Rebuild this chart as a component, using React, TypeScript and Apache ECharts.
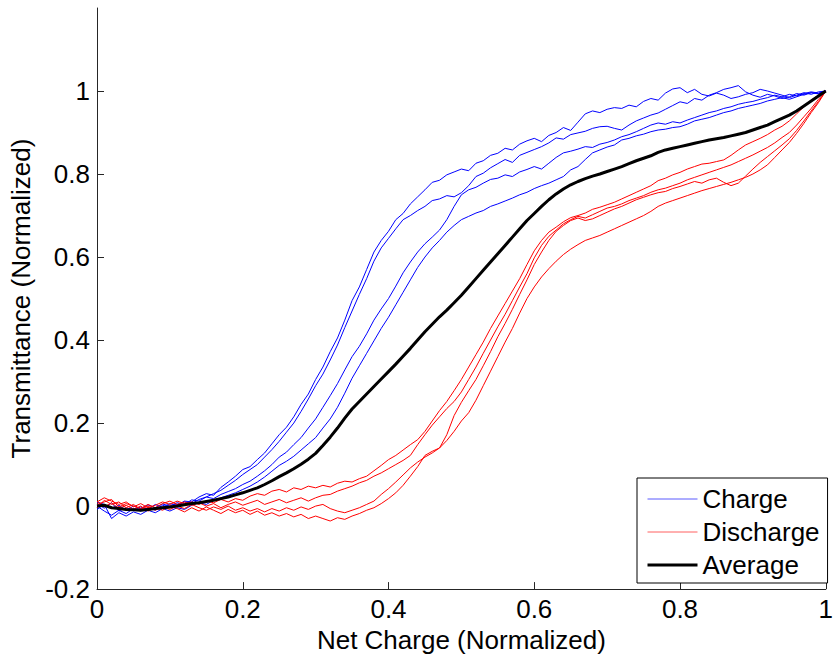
import React, { useEffect, useRef } from "react";
import * as echarts from "echarts";

// x grid (normalized net charge), step 0.01
const X: number[] = Array.from({ length: 101 }, (_, i) => +(i / 100).toFixed(2));

const charge1 = [
  0.005, -0.005, 0.008, -0.012, -0.004, -0.010, -0.002, -0.008, 0.004, -0.003,
  0.006, 0.002, 0.012, 0.010, 0.022, 0.030, 0.026, 0.045, 0.058, 0.072,
  0.088, 0.095, 0.112, 0.128, 0.150, 0.172, 0.190, 0.215, 0.245, 0.270,
  0.305, 0.335, 0.372, 0.405, 0.448, 0.495, 0.528, 0.570, 0.612, 0.640,
  0.662, 0.690, 0.705, 0.728, 0.745, 0.762, 0.780, 0.785, 0.798, 0.805,
  0.812, 0.808, 0.826, 0.832, 0.845, 0.850, 0.862, 0.858, 0.872, 0.880,
  0.886, 0.878, 0.893, 0.900, 0.912, 0.905, 0.925, 0.945, 0.952, 0.948,
  0.956, 0.960, 0.958, 0.966, 0.962, 0.975, 0.982, 0.978, 0.995, 1.005,
  1.008, 0.996, 1.004, 0.992, 0.988, 0.995, 0.990, 0.982, 0.986, 0.992,
  0.996, 1.004, 1.000, 0.995, 0.990, 0.984, 0.990, 0.996, 0.992, 0.998,
  1.000,
];

const charge2 = [
  0.010, 0.004, -0.006, 0.002, -0.010, 0.000, -0.006, 0.003, -0.004, 0.005,
  0.000, 0.008, 0.004, 0.015, 0.012, 0.022, 0.030, 0.038, 0.050, 0.062,
  0.076, 0.088, 0.100, 0.118, 0.136, 0.156, 0.178, 0.200, 0.228, 0.258,
  0.290, 0.318, 0.352, 0.388, 0.430, 0.470, 0.510, 0.548, 0.590, 0.622,
  0.645, 0.668, 0.690, 0.700, 0.712, 0.722, 0.736, 0.740, 0.748, 0.745,
  0.755, 0.772, 0.794, 0.802, 0.815, 0.825, 0.835, 0.828, 0.845, 0.852,
  0.859, 0.866, 0.875, 0.887, 0.884, 0.895, 0.899, 0.903, 0.910, 0.914,
  0.915, 0.910, 0.906, 0.918, 0.928, 0.935, 0.942, 0.947, 0.956, 0.965,
  0.974, 0.970, 0.982, 0.978, 0.990, 0.996, 1.004, 1.008, 1.013, 0.998,
  0.990, 0.985, 0.992, 0.988, 0.982, 0.986, 0.994, 0.990, 0.996, 0.994,
  1.000,
];

const charge3 = [
  0.000, -0.012, -0.022, -0.010, -0.018, -0.006, -0.012, -0.004, -0.010, 0.002,
  -0.004, 0.004, 0.010, 0.006, 0.016, 0.022, 0.018, 0.028, 0.035, 0.042,
  0.052, 0.060, 0.072, 0.085, 0.100, 0.118, 0.130, 0.148, 0.165, 0.188,
  0.210, 0.238, 0.266, 0.295, 0.328, 0.360, 0.385, 0.415, 0.448, 0.475,
  0.500, 0.530, 0.562, 0.588, 0.612, 0.632, 0.648, 0.665, 0.690, 0.722,
  0.750, 0.762, 0.768, 0.778, 0.787, 0.790, 0.798, 0.794, 0.805, 0.811,
  0.818, 0.812, 0.826, 0.840, 0.851, 0.855, 0.860, 0.866, 0.864, 0.872,
  0.876, 0.882, 0.890, 0.895, 0.902, 0.910, 0.918, 0.923, 0.920, 0.926,
  0.923, 0.930, 0.936, 0.942, 0.948, 0.952, 0.958, 0.962, 0.968, 0.972,
  0.975, 0.980, 0.984, 0.990, 0.986, 0.992, 0.988, 0.994, 0.998, 0.995,
  1.000,
];

const charge4 = [
  -0.008, 0.004, -0.030, -0.016, -0.024, -0.014, -0.020, -0.010, -0.016, -0.006,
  -0.012, -0.004, -0.008, 0.002, 0.008, 0.004, 0.014, 0.020, 0.026, 0.032,
  0.040, 0.048, 0.058, 0.070, 0.084, 0.098, 0.108, 0.120, 0.135, 0.150,
  0.165, 0.188, 0.210, 0.238, 0.272, 0.308, 0.338, 0.368, 0.398, 0.428,
  0.455, 0.485, 0.515, 0.545, 0.575, 0.600, 0.622, 0.640, 0.660, 0.676,
  0.690, 0.698, 0.706, 0.712, 0.722, 0.728, 0.735, 0.742, 0.750, 0.756,
  0.765, 0.772, 0.778, 0.786, 0.794, 0.810, 0.818, 0.835, 0.851, 0.858,
  0.865, 0.870, 0.882, 0.886, 0.892, 0.896, 0.902, 0.906, 0.908, 0.912,
  0.914, 0.920, 0.928, 0.932, 0.936, 0.942, 0.948, 0.952, 0.958, 0.962,
  0.966, 0.970, 0.976, 0.980, 0.984, 0.980, 0.986, 0.992, 0.996, 0.993,
  1.000,
];

const discharge1 = [
  0.010, 0.020, 0.012, 0.004, 0.010, -0.002, 0.006, -0.004, 0.002, 0.010,
  0.004, 0.012, 0.006, 0.010, 0.004, 0.012, 0.008, 0.016, 0.010, 0.018,
  0.014, 0.024, 0.030, 0.026, 0.036, 0.040, 0.034, 0.044, 0.040, 0.048,
  0.044, 0.050, 0.046, 0.055, 0.060, 0.058, 0.066, 0.072, 0.085, 0.098,
  0.112, 0.122, 0.135, 0.148, 0.160, 0.180, 0.205, 0.230, 0.252, 0.278,
  0.305, 0.335, 0.365, 0.395, 0.428, 0.458, 0.488, 0.518, 0.548, 0.582,
  0.615, 0.640, 0.660, 0.672, 0.685, 0.695, 0.700, 0.706, 0.715, 0.720,
  0.726, 0.732, 0.740, 0.748, 0.756, 0.764, 0.772, 0.784, 0.790, 0.798,
  0.804, 0.812, 0.818, 0.824, 0.826, 0.830, 0.834, 0.845, 0.858, 0.870,
  0.878, 0.886, 0.895, 0.906, 0.915, 0.928, 0.945, 0.962, 0.978, 0.990,
  1.000,
];

const discharge2 = [
  0.004, 0.010, 0.016, -0.002, 0.006, 0.000, -0.006, 0.004, -0.004, 0.006,
  0.012, 0.004, 0.010, 0.002, 0.008, 0.000, 0.006, -0.004, 0.004, 0.010,
  0.002, 0.008, 0.014, 0.004, 0.010, 0.016, 0.008, 0.014, 0.020, 0.012,
  0.020, 0.026, 0.028, 0.036, 0.042, 0.048, 0.056, 0.062, 0.072, 0.080,
  0.090, 0.100, 0.110, 0.122, 0.148, 0.172, 0.195, 0.215, 0.235, 0.252,
  0.275, 0.305, 0.335, 0.368, 0.400, 0.432, 0.462, 0.495, 0.528, 0.560,
  0.598, 0.628, 0.650, 0.665, 0.680, 0.690, 0.698, 0.694, 0.702, 0.710,
  0.718, 0.722, 0.728, 0.736, 0.742, 0.748, 0.756, 0.762, 0.766, 0.772,
  0.778, 0.786, 0.792, 0.798, 0.804, 0.810, 0.816, 0.822, 0.830, 0.838,
  0.846, 0.855, 0.864, 0.875, 0.888, 0.900, 0.918, 0.938, 0.958, 0.980,
  1.000,
];

const discharge3 = [
  -0.004, 0.014, 0.004, 0.010, -0.004, 0.004, -0.008, 0.000, -0.010, -0.002,
  -0.008, 0.000, -0.006, 0.004, -0.004, -0.010, -0.002, -0.008, 0.000, -0.010,
  -0.004, -0.012, -0.006, -0.014, -0.006, -0.012, -0.004, -0.010, -0.002, -0.008,
  0.000, 0.004, -0.006, -0.012, -0.016, -0.010, -0.004, 0.004, 0.012, 0.028,
  0.042, 0.058, 0.075, 0.092, 0.106, 0.118, 0.128, 0.140, 0.172, 0.218,
  0.250, 0.278, 0.305, 0.338, 0.372, 0.408, 0.440, 0.474, 0.510, 0.545,
  0.582, 0.612, 0.640, 0.662, 0.676, 0.688, 0.694, 0.688, 0.692, 0.700,
  0.708, 0.716, 0.722, 0.730, 0.738, 0.744, 0.750, 0.755, 0.758, 0.765,
  0.770, 0.776, 0.782, 0.778, 0.786, 0.790, 0.780, 0.772, 0.778, 0.795,
  0.812, 0.828, 0.842, 0.856, 0.870, 0.885, 0.905, 0.928, 0.952, 0.975,
  1.000,
];

const discharge4 = [
  0.012, -0.002, 0.008, -0.006, 0.002, -0.008, 0.000, -0.012, -0.004, -0.010,
  0.000, -0.006, -0.014, -0.004, -0.012, -0.002, -0.010, -0.018, -0.008, -0.016,
  -0.010, -0.020, -0.012, -0.022, -0.016, -0.024, -0.018, -0.026, -0.020, -0.030,
  -0.024, -0.030, -0.036, -0.028, -0.032, -0.024, -0.018, -0.010, -0.004, 0.006,
  0.018, 0.032, 0.050, 0.072, 0.095, 0.122, 0.132, 0.140, 0.158, 0.180,
  0.205, 0.225, 0.255, 0.290, 0.325, 0.360, 0.395, 0.428, 0.465, 0.500,
  0.528, 0.552, 0.572, 0.590, 0.606, 0.619, 0.630, 0.640, 0.646, 0.652,
  0.660, 0.668, 0.676, 0.684, 0.692, 0.700, 0.710, 0.722, 0.730, 0.736,
  0.742, 0.748, 0.754, 0.760, 0.765, 0.770, 0.775, 0.780, 0.786, 0.792,
  0.800, 0.810, 0.822, 0.840, 0.858, 0.876, 0.898, 0.922, 0.948, 0.972,
  1.000,
];

const average = [
  0.000, 0.002, -0.004, -0.006, -0.008, -0.009, -0.010, -0.008, -0.006, -0.004,
  -0.002, 0.000, 0.003, 0.006, 0.008, 0.011, 0.014, 0.018, 0.022, 0.027,
  0.032, 0.038, 0.044, 0.052, 0.061, 0.071, 0.080, 0.090, 0.101, 0.113,
  0.127, 0.146, 0.166, 0.188, 0.212, 0.234, 0.252, 0.270, 0.288, 0.306,
  0.324, 0.342, 0.361, 0.380, 0.400, 0.420, 0.438, 0.456, 0.472, 0.490,
  0.508, 0.528, 0.548, 0.568, 0.588, 0.608, 0.628, 0.648, 0.668, 0.688,
  0.705, 0.722, 0.738, 0.752, 0.764, 0.774, 0.782, 0.789, 0.795, 0.800,
  0.806, 0.812, 0.818, 0.825, 0.832, 0.838, 0.844, 0.852, 0.858, 0.862,
  0.866, 0.870, 0.874, 0.878, 0.882, 0.885, 0.888, 0.892, 0.896, 0.900,
  0.906, 0.912, 0.918, 0.926, 0.934, 0.942, 0.952, 0.964, 0.976, 0.988,
  1.000,
];

const chargeSeries = [charge1, charge2, charge3, charge4];
const dischargeSeries = [discharge1, discharge2, discharge3, discharge4];
const legendNames = ["Charge", "Discharge", "Average"];
const xTitle = "Net Charge (Normalized)";
const yTitle = "Transmittance (Normalized)";

const FONT = "'Liberation Sans', Arial, Helvetica, sans-serif";
const AXIS_COLOR = "#262626";

export default function App() {
  const ref = useRef<HTMLDivElement>(null);

  useEffect(() => {
    if (!ref.current) return;
    const chart = echarts.init(ref.current, null, { renderer: "svg" });

    const mk = (name: string, ys: number[], color: string, width: number, z: number) => ({
      type: "line",
      name,
      data: X.map((x, i) => [x, ys[i]]),
      symbol: "none",
      showSymbol: false,
      silent: true,
      z,
      lineStyle: { color, width },
      itemStyle: { color },
    });

    const series = [
      ...chargeSeries.map((s) => mk(legendNames[0], s, "#0000ff", 1, 2)),
      ...dischargeSeries.map((s) => mk(legendNames[1], s, "#ff0000", 1, 2)),
      mk(legendNames[2], average, "#000000", 3, 3),
    ];

    chart.setOption({
      animation: false,
      backgroundColor: "#ffffff",
      textStyle: { fontFamily: FONT },
      grid: { left: 97, top: 8, width: 738, height: 583.5, containLabel: false },
      legend: {
        data: [
          { name: legendNames[0], lineStyle: { width: 1, color: "#5a5aff" } },
          { name: legendNames[1], lineStyle: { width: 1, color: "#ff6060" } },
          { name: legendNames[2], lineStyle: { width: 3, color: "#000000" } },
        ],
        orient: "vertical",
        left: 637,
        top: 478,
        padding: [6, 8, 3, 9],
        itemWidth: 50,
        itemHeight: 1,
        itemGap: 3,
        borderColor: "#000000",
        borderWidth: 1,
        backgroundColor: "#ffffff",
        selectedMode: false,
        itemStyle: { opacity: 0 },
        textStyle: { fontFamily: FONT, fontSize: 26, color: "#000", lineHeight: 30 },
      },
      xAxis: {
        type: "value",
        min: 0,
        max: 1,
        interval: 0.2,
        name: xTitle,
        nameLocation: "middle",
        nameGap: 34,
        nameTextStyle: { fontFamily: FONT, fontSize: 26, color: "#000" },
        axisLine: { show: true, onZero: false, lineStyle: { color: AXIS_COLOR, width: 1 } },
        axisTick: { show: true, inside: true, length: 7, lineStyle: { color: AXIS_COLOR } },
        axisLabel: { fontFamily: FONT, fontSize: 26, color: "#000", margin: 7 },
        splitLine: { show: false },
      },
      yAxis: {
        type: "value",
        min: -0.2,
        max: 1.2,
        interval: 0.2,
        name: yTitle,
        nameLocation: "middle",
        nameGap: 60,
        nameRotate: 90,
        nameTextStyle: { fontFamily: FONT, fontSize: 26, color: "#000" },
        axisLine: { show: true, onZero: false, lineStyle: { color: AXIS_COLOR, width: 1 } },
        axisTick: { show: true, inside: true, length: 7, lineStyle: { color: AXIS_COLOR } },
        axisLabel: { fontFamily: FONT, fontSize: 26, color: "#000", margin: 7, showMaxLabel: false },
        splitLine: { show: false },
      },
      series,
    });

    return () => chart.dispose();
  }, []);

  return (
    <div
      ref={ref}
      style={{ position: "fixed", left: 0, top: 0, width: 836, height: 658, background: "#fff" }}
    />
  );
}
